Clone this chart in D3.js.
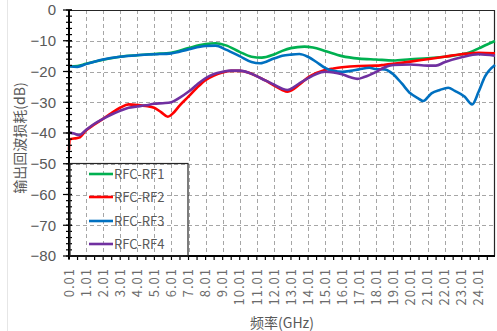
<!DOCTYPE html>
<html>
<head>
<meta charset="utf-8">
<script src="https://cdn.jsdelivr.net/npm/d3@7"></script>
<style>
  html, body { margin: 0; padding: 0; background: #fff; }
  svg { display: block; }
</style>
</head>
<body>
<svg id="chart" width="497" height="331"></svg>
<script>
// Output return loss of each RFC-RFx path versus frequency

const seriesNames = ["RFC-RF1", "RFC-RF2", "RFC-RF3", "RFC-RF4"];
const seriesColors = ["#00b050", "#ff0000", "#0070c0", "#7030a0"];

const xTickLabels = ["0.01","1.01","2.01","3.01","4.01","5.01","6.01","7.01","8.01","9.01",
  "10.01","11.01","12.01","13.01","14.01","15.01","16.01","17.01","18.01","19.01",
  "20.01","21.01","22.01","23.01","24.01"];
const yTicks = [0, -10, -20, -30, -40, -50, -60, -70, -80];

// RFC-RF1
const rf1Freq = [0.01,0.5,1,2,3,4,5,6,7,8,8.6,9.2,10,10.7,11.3,12,12.5,13,13.8,14.3,15,16,17,18,19,20,21,22,23,23.5,24,24.5,24.96];
const rf1Loss = [-18.3,-18.2,-17.5,-16.2,-15.2,-14.7,-14.3,-13.9,-12.4,-11.1,-10.8,-11.5,-13.6,-15.2,-15.5,-14.5,-13.3,-12.4,-11.9,-12.2,-13.3,-15.0,-15.8,-16.1,-16.4,-16.0,-15.7,-15.2,-14.4,-13.7,-12.5,-11.2,-10.1];

// RFC-RF2
const rf2Freq = [0.01,0.05,0.3,0.6,1,1.5,2,2.5,3,3.5,4,4.5,5,5.4,5.8,6.1,6.5,7,7.5,8,8.5,9,9.5,10,10.5,11,11.5,12,12.5,12.8,13.2,13.6,14,14.5,15,15.5,16,17,18,18.5,19,20,21,22,23,24,24.96];
const rf2Loss = [-45.5,-42.0,-41.8,-41.5,-39.2,-37.2,-35.4,-33.5,-31.8,-30.7,-30.9,-31.2,-31.8,-33.2,-34.7,-33.6,-31.0,-28.2,-25.3,-22.8,-21.3,-20.3,-19.8,-19.8,-20.3,-21.5,-22.9,-24.5,-26.0,-26.6,-25.6,-23.8,-22.0,-20.5,-19.5,-19.0,-18.6,-18.2,-18.1,-17.8,-17.5,-16.8,-16.0,-15.2,-14.4,-13.9,-14.1];

// RFC-RF3
const rf3Freq = [0.01,0.5,1,2,3,4,5,6,7,8,8.6,9.2,10,10.7,11.2,12,12.5,13,13.5,14,14.5,15,15.5,16,16.5,17,17.6,18,18.5,19,19.5,20,20.46,20.75,21.24,21.73,22.22,22.61,23.19,23.62,24,24.37,24.96];
const rf3Loss = [-18.3,-18.5,-17.6,-16.1,-15.2,-14.7,-14.4,-14.1,-12.8,-11.7,-11.6,-12.9,-15.0,-16.9,-17.3,-15.8,-14.9,-14.5,-14.3,-15.2,-16.9,-18.8,-19.8,-20.1,-19.8,-19.3,-18.8,-19.2,-19.3,-20.9,-23.9,-27.1,-28.7,-29.6,-27.1,-26.0,-25.3,-26.3,-28.2,-30.7,-26.6,-21.7,-17.9];

// RFC-RF4
const rf4Freq = [0.01,0.3,0.6,1,1.5,2,2.5,3,3.5,4,4.5,5,5.5,6,6.5,7,7.5,8,8.5,9,9.5,10,10.5,11,11.5,12,12.5,12.8,13.2,13.6,14,14.5,15,15.5,16,16.5,16.9,17.3,18,18.5,19,20,21,21.5,22,23,24,24.96];
const rf4Loss = [-39.8,-40.2,-40.7,-39.0,-37.0,-35.4,-34.0,-32.8,-31.8,-31.4,-31.0,-30.5,-30.3,-30.0,-28.5,-26.6,-24.3,-22.2,-20.8,-20.1,-19.7,-19.7,-20.3,-21.5,-22.9,-24.2,-25.6,-26.0,-25.0,-23.5,-22.2,-20.8,-20.1,-20.3,-20.9,-21.9,-22.4,-21.8,-20.1,-18.6,-17.9,-17.7,-18.1,-18.1,-17.0,-15.4,-14.4,-14.9];

const seriesFreq = [rf1Freq, rf2Freq, rf3Freq, rf4Freq];
const seriesLoss = [rf1Loss, rf2Loss, rf3Loss, rf4Loss];

const svg = d3.select("#chart");
const plot = { left: 69, right: 495, top: 10, bottom: 256 };

const x = d3.scaleLinear().domain([0.01, 24.96]).range([plot.left, plot.right]);
const y = d3.scaleLinear().domain([-80, 0]).range([plot.bottom, plot.top]);

const textColor = "#595959";
const cjkFont = "'Noto Sans CJK SC', 'Noto Sans', sans-serif";

// faint outer frame line on the left edge
svg.append("line").attr("x1", 7.5).attr("x2", 7.5).attr("y1", 0).attr("y2", 331)
  .attr("stroke", "#e6e6e6").attr("stroke-width", 1);

// grid
const tickFreqs = xTickLabels.map(d => +d);
const grid = svg.append("g").attr("stroke", "#a6a6a6").attr("stroke-width", 1).attr("stroke-dasharray", "4,3");
grid.selectAll("line.v").data(tickFreqs.slice(1)).join("line")
  .attr("x1", d => Math.round(x(d)) + 0.5).attr("x2", d => Math.round(x(d)) + 0.5)
  .attr("y1", plot.top).attr("y2", plot.bottom);
grid.selectAll("line.h").data(yTicks.filter(d => d > -80 && d < 0)).join("line")
  .attr("x1", plot.left).attr("x2", plot.right)
  .attr("y1", d => Math.round(y(d)) + 0.5).attr("y2", d => Math.round(y(d)) + 0.5);

// frame (top and right)
svg.append("path")
  .attr("d", `M${plot.left},${plot.top + 0.5}H${plot.right - 0.5}V${plot.bottom}`)
  .attr("fill", "none").attr("stroke", "#262626").attr("stroke-width", 1.2);

// series
const line = d3.line().x(d => x(d[0])).y(d => y(d[1])).curve(d3.curveMonotoneX);
const lines = svg.append("g");
seriesNames.forEach((name, i) => {
  const pts = seriesFreq[i].map((f, j) => [f, seriesLoss[i][j]]);
  lines.append("path").datum(pts)
    .attr("d", line)
    .attr("fill", "none")
    .attr("stroke", seriesColors[i])
    .attr("stroke-width", 2.6)
    .attr("stroke-linejoin", "round");
});

// y axis
const yMinor = d3.range(-80, 0.1, 2);
const yAxisG = svg.append("g");
yAxisG.selectAll("line.minor").data(yMinor).join("line")
  .attr("x1", plot.left - 3).attr("x2", plot.left + 3)
  .attr("y1", d => y(d)).attr("y2", d => y(d))
  .attr("stroke", "#000").attr("stroke-width", 1.2);
yAxisG.selectAll("line.major").data(yTicks).join("line")
  .attr("x1", plot.left - 6).attr("x2", plot.left + 3)
  .attr("y1", d => y(d)).attr("y2", d => y(d))
  .attr("stroke", "#000").attr("stroke-width", 1.2);
yAxisG.append("line").attr("x1", plot.left).attr("x2", plot.left)
  .attr("y1", plot.top).attr("y2", plot.bottom + 3)
  .attr("stroke", "#000").attr("stroke-width", 2);
yAxisG.selectAll("text").data(yTicks).join("text")
  .attr("x", plot.left - 13).attr("y", d => y(d))
  .attr("dy", "0.36em")
  .attr("text-anchor", "end")
  .attr("font-family", "'Liberation Sans', Arial, sans-serif")
  .attr("font-size", 15)
  .attr("fill", textColor)
  .text(d => d < 0 ? "\u2212" + Math.abs(d) : d);

// x axis
const xMinor = d3.range(0.01, 24.96, 0.5);
const xAxisG = svg.append("g");
xAxisG.append("line").attr("x1", plot.left - 1).attr("x2", plot.right)
  .attr("y1", plot.bottom).attr("y2", plot.bottom)
  .attr("stroke", "#000").attr("stroke-width", 2);
xAxisG.selectAll("line.tick").data(xMinor).join("line")
  .attr("x1", d => x(d)).attr("x2", d => x(d))
  .attr("y1", plot.bottom).attr("y2", plot.bottom + 4)
  .attr("stroke", "#000").attr("stroke-width", 1.2);
xAxisG.selectAll("text").data(xTickLabels).join("text")
  .attr("transform", d => `translate(${x(+d)},268) rotate(-90)`)
  .attr("dy", "0.36em")
  .attr("text-anchor", "end")
  .attr("font-family", cjkFont)
  .attr("font-size", 13)
  .attr("letter-spacing", "1px")
  .attr("fill", "#6b6b6b")
  .text(d => d);

// axis titles
svg.append("text")
  .attr("transform", "translate(20,138) rotate(-90)")
  .attr("text-anchor", "middle").attr("dy", "0.35em")
  .attr("font-family", cjkFont).attr("font-size", 14).attr("fill", textColor)
  .text("输出回波损耗(dB)");
svg.append("text")
  .attr("x", 282).attr("y", 328)
  .attr("text-anchor", "middle")
  .attr("font-family", cjkFont).attr("font-size", 14).attr("fill", textColor)
  .text("频率(GHz)");

// legend
const legend = svg.append("g");
legend.append("rect")
  .attr("x", plot.left + 1).attr("y", 163.5).attr("width", 118).attr("height", plot.bottom - 163.5)
  .attr("fill", "none").attr("stroke", "#262626").attr("stroke-width", 1.2);
const legendY = [174, 197, 221, 244];
seriesNames.forEach((name, i) => {
  legend.append("line")
    .attr("x1", 89).attr("x2", 113).attr("y1", legendY[i]).attr("y2", legendY[i])
    .attr("stroke", seriesColors[i]).attr("stroke-width", 2.6);
  legend.append("text")
    .attr("x", 114).attr("y", legendY[i]).attr("dy", "0.36em")
    .attr("font-family", cjkFont).attr("font-size", 13).attr("fill", textColor)
    .text(name);
});
</script>
</body>
</html>
